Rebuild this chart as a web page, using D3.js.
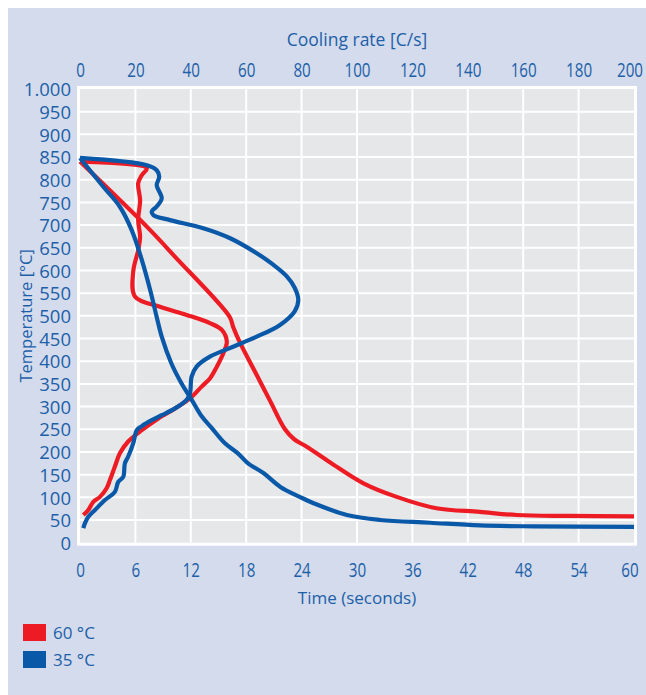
<!DOCTYPE html>
<html><head><meta charset="utf-8">
<script src="https://cdn.jsdelivr.net/npm/d3@7/dist/d3.min.js"></script>
<style>
html,body{margin:0;padding:0;background:#fff;}
svg{display:block;font-family:"Open Sans",sans-serif;}
</style></head>
<body>
<script>
// ---- data ----
const timeTicks = [0, 6, 12, 18, 24, 30, 36, 42, 48, 54, 60];
const rateTicks = [0, 20, 40, 60, 80, 100, 120, 140, 160, 180, 200];
const tempTicks = [0, 50, 100, 150, 200, 250, 300, 350, 400, 450, 500, 550, 600, 650, 700, 750, 800, 850, 900, 950, 1000];
const tempLabels = ["0","50","100","150","200","250","300","350","400","450","500","550","600","650","700","750","800","850","900","950","1.000"];
const seriesNames = ["60 °C", "35 °C"];
const seriesColors = ["#ed1c24", "#0a58a8"];

// [time (s), temperature (°C)]
const time60 = [[0,840],[7.6,689],[10.3,630],[16.2,498],[16.6,475],[17.3,442],[18.9,379],[20.6,312],[22.2,250],[23.2,228],[24.6,211],[27.1,177],[30.7,131],[34.3,101],[38.6,76],[43.3,68],[47.3,61],[53,59],[60,58]];
const time35 = [[0,848],[2.5,785],[4.3,741],[5.6,689],[6.7,623],[7.6,557],[8.3,498],[8.85,454],[9.9,395],[11.0,351],[12.1,315],[13.2,278],[14.3,252],[15.7,219],[17.1,197],[18.2,175],[19.9,153],[21.7,123],[23.8,101],[25.3,87],[28.9,61],[32.5,50],[37.9,44],[43.3,38],[49.1,36],[60,35]];
// [cooling rate (C/s), temperature (°C)]
const rate60 = [[0,840],[24.1,825],[22.3,810],[21.0,792],[21.7,755],[21.0,711],[21.7,674],[21.0,645],[19.2,597],[19.9,542],[28.9,520],[38.5,502],[46.9,484],[51.2,469],[53.0,443],[51.7,417],[49.4,388],[46.9,362],[43.9,344],[39.7,318],[34.3,296],[28.3,274],[22.3,248],[17.4,223],[14.4,197],[12.6,168],[10.8,138],[9.6,120],[7.2,101],[4.8,90],[3.0,72],[1.2,61]];
const rate35 = [[0,848],[24.1,832],[27.7,821],[28.6,807],[27.7,788],[29.5,759],[27.7,741],[25.9,730],[26.5,722],[32.5,711],[44.5,693],[54.2,671],[63.8,638],[69.5,614],[74.5,588],[77.5,562],[78.8,535],[77.5,510],[72.2,480],[63.8,454],[55.3,432],[46.9,410],[42.1,388],[40.3,366],[39.7,329],[38.5,315],[34.3,296],[29.5,281],[25.9,270],[22.3,257],[20.5,248],[19.2,219],[17.4,190],[16.2,175],[15.6,145],[13.8,134],[12.6,112],[9.0,94],[5.4,72],[3.0,57],[1.8,43],[1.2,32]];

// ---- layout ----
const W = 646, H = 695;
const pL = 80, pR = 634, pT = 89, pB = 542.7;
const textColor = "#1d5fa8";
const sx = 0.76;

const svg = d3.select("body").append("svg").attr("width", W).attr("height", H);
svg.append("rect").attr("x", 8).attr("y", 8).attr("width", W - 8).attr("height", H - 8).attr("fill", "#d3dbec");

const xTime = d3.scaleLinear().domain([0, 60]).range([pL, pR]);
const xRate = d3.scaleLinear().domain([0, 200]).range([pL, pR]);
const yT = d3.scaleLinear().domain([0, 1000]).range([pB, pT]);

// panel
svg.append("rect").attr("x", pL - 3).attr("y", pT - 3).attr("width", pR - pL + 6).attr("height", pB - pT + 6).attr("fill", "#fff");
svg.append("rect").attr("x", pL).attr("y", pT).attr("width", pR - pL).attr("height", pB - pT).attr("fill", "#e6e7e9");

// grid
const grid = svg.append("g").attr("stroke", "#fff").attr("stroke-width", 2);
grid.selectAll("line.v").data(timeTicks.slice(1, -1)).join("line").attr("class", "v")
  .attr("x1", d => xTime(d)).attr("x2", d => xTime(d)).attr("y1", pT).attr("y2", pB);
grid.selectAll("line.h").data(tempTicks.slice(1, -1)).join("line").attr("class", "h")
  .attr("x1", pL).attr("x2", pR).attr("y1", d => yT(d)).attr("y2", d => yT(d));

// axes
const leftAxis = svg.append("g").attr("transform", `translate(${pL},0)`)
  .call(d3.axisLeft(yT).tickValues(tempTicks).tickFormat((d, i) => tempLabels[i]).tickSize(0).tickPadding(9));
leftAxis.select(".domain").remove();
leftAxis.selectAll("text").attr("fill", textColor).attr("font-size", 18.5).attr("font-family", "'Open Sans',sans-serif").attr("dy", "0.36em");

const lastShift = (d, i, n) => (i === n.length - 1 ? -4.5 / sx : 0);

const topAxis = svg.append("g").attr("transform", `translate(0,${pT})`)
  .call(d3.axisTop(xRate).tickValues(rateTicks).tickSize(0).tickPadding(12));
topAxis.select(".domain").remove();
topAxis.selectAll("text").attr("fill", textColor).attr("font-size", 20).attr("font-family", "'Open Sans',sans-serif")
  .attr("transform", `scale(${sx},1)`).attr("x", lastShift);

const botAxis = svg.append("g").attr("transform", `translate(0,${pB})`)
  .call(d3.axisBottom(xTime).tickValues(timeTicks).tickSize(0).tickPadding(0));
botAxis.select(".domain").remove();
botAxis.selectAll("text").attr("fill", textColor).attr("font-size", 20).attr("font-family", "'Open Sans',sans-serif")
  .attr("y", 34).attr("dy", 0).attr("transform", `scale(${sx},1)`).attr("x", lastShift);

// titles
svg.append("text").attr("x", 357).attr("y", 46).attr("text-anchor", "middle")
  .attr("fill", textColor).attr("font-size", 17.5).text("Cooling rate [C/s]");
svg.append("text").attr("x", 357).attr("y", 604).attr("text-anchor", "middle")
  .attr("fill", textColor).attr("font-size", 17).text("Time (seconds)");
svg.append("text").attr("transform", `translate(31.5,${(pT + pB) / 2}) rotate(-90)`).attr("text-anchor", "middle")
  .attr("fill", textColor).attr("font-size", 16.5).text("Temperature [°C]");

// lines
const lineTime = d3.line().x(d => xTime(d[0])).y(d => yT(d[1])).curve(d3.curveCatmullRom.alpha(0.5));
const lineRate = d3.line().x(d => xRate(d[0])).y(d => yT(d[1])).curve(d3.curveCatmullRom.alpha(0.5));
const lines = svg.append("g").attr("fill", "none").attr("stroke-width", 4.2).attr("stroke-linejoin", "round").attr("stroke-linecap", "butt");
lines.append("path").attr("d", lineTime(time60)).attr("stroke", seriesColors[0]);
lines.append("path").attr("d", lineRate(rate60)).attr("stroke", seriesColors[0]);
lines.append("path").attr("d", lineTime(time35)).attr("stroke", seriesColors[1]);
lines.append("path").attr("d", lineRate(rate35)).attr("stroke", seriesColors[1]);

// legend
const leg = svg.append("g");
seriesNames.forEach((name, i) => {
  const y = 624 + i * 27;
  leg.append("rect").attr("x", 23).attr("y", y).attr("width", 23).attr("height", 17).attr("fill", seriesColors[i]);
  leg.append("text").attr("x", 53).attr("y", y + 15).attr("fill", textColor).attr("font-size", 17).text(name);
});
</script>
</body></html>
